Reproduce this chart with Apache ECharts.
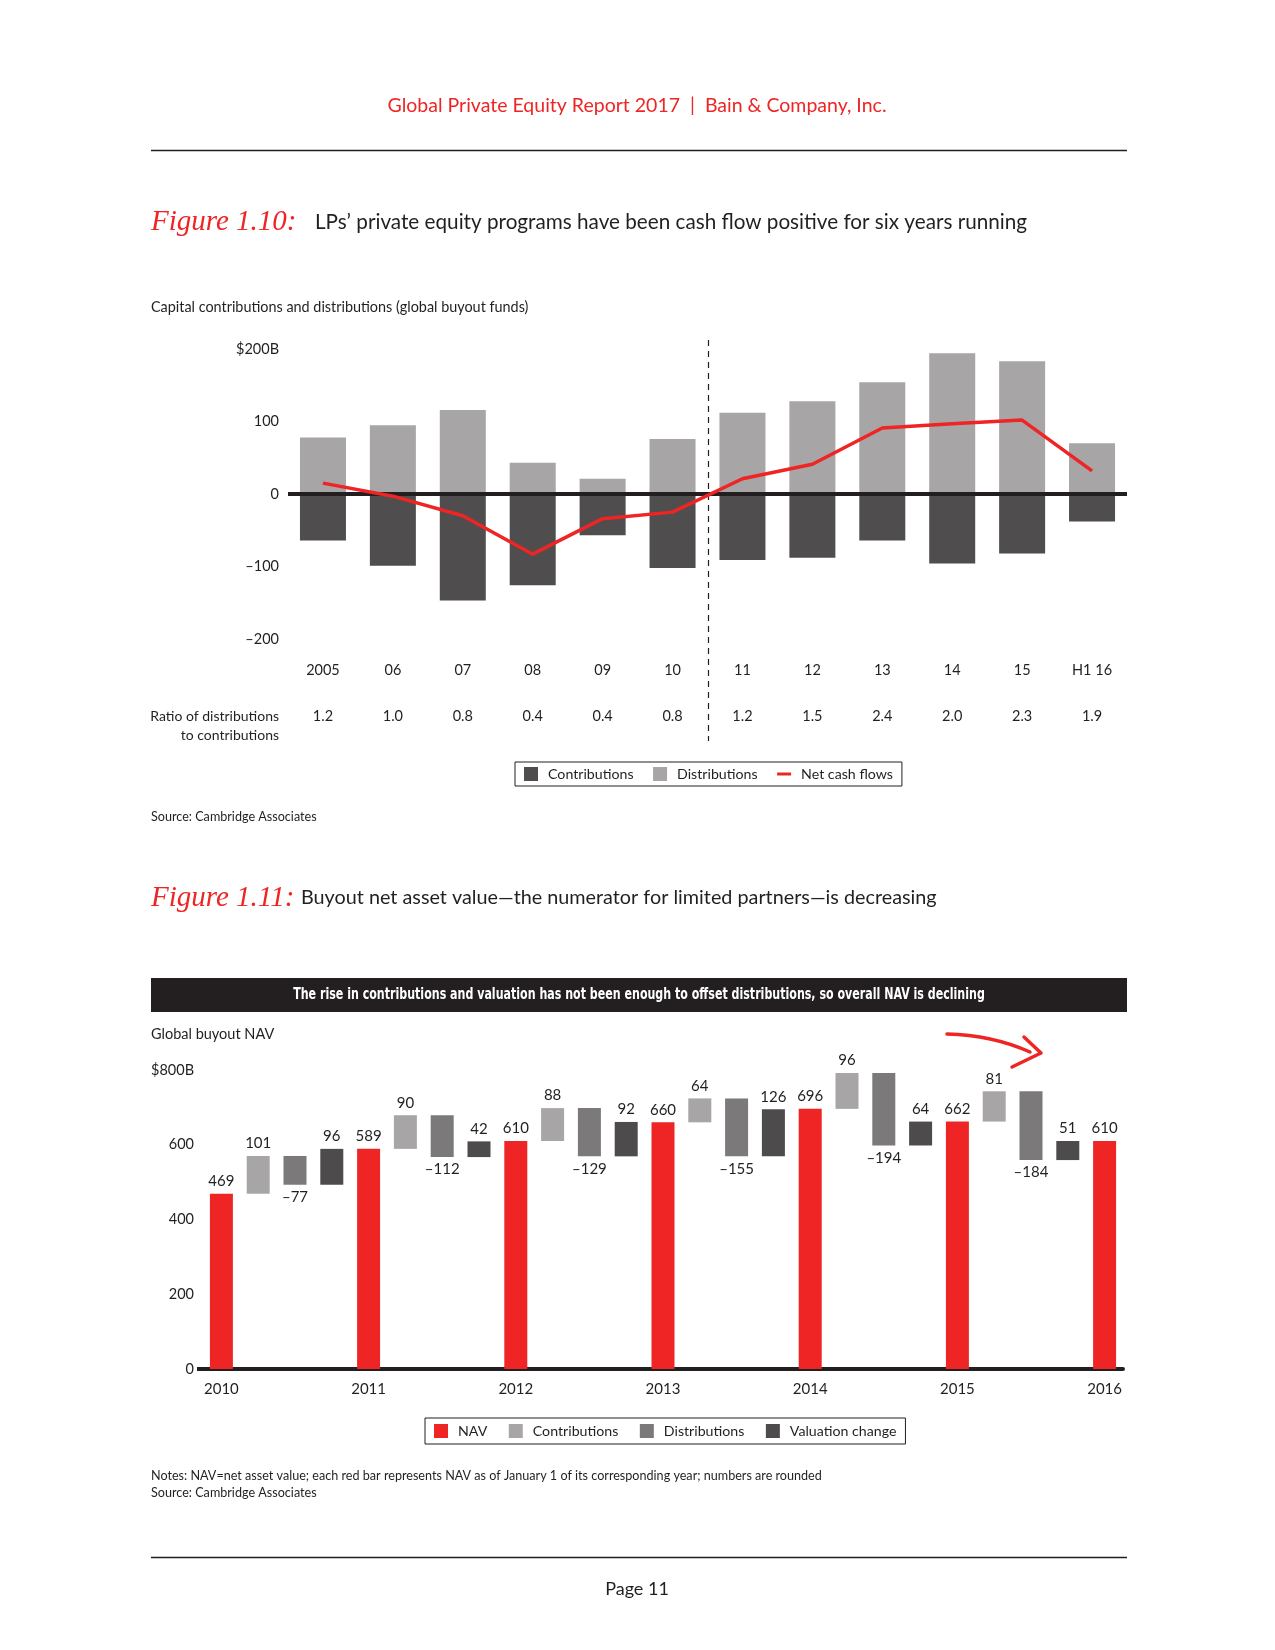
<!DOCTYPE html>
<html><head><meta charset="utf-8">
<script src="https://cdn.jsdelivr.net/npm/echarts@6/dist/echarts.min.js"></script>
<style>html,body{margin:0;padding:0;background:#fff}.c{position:absolute;left:0;top:0;width:1275px;height:1650px}</style>
</head><body><div id="c1" class="c"></div><div id="c2" class="c"></div>
<script>
// ---- Figure 1.10 data ----
const fig10Categories = ['2005','06','07','08','09','10','11','12','13','14','15','H1 16'];
const fig10Distributions = [78,95,116,43,21,76,112,128,154,194,183,70];
const fig10Contributions = [-64,-99,-147,-126,-57,-102,-91,-88,-64,-96,-82,-38];
const fig10NetCashFlows = [15,-3,-30,-83,-34,-25,21,41,91,97,102,32];
const fig10Ratios = ['1.2','1.0','0.8','0.4','0.4','0.8','1.2','1.5','2.4','2.0','2.3','1.9'];
const fig10YTickLabels = {'200':'$200B','100':'100','0':'0','-100':'\u2013100','-200':'\u2013200'};

// ---- Figure 1.11 data ----
const fig11Years = ['2010','2011','2012','2013','2014','2015','2016'];
const fig11NAV = [469,589,610,660,696,662,610];
const fig11Contributions = [101,90,88,64,96,81];
const fig11Distributions = [-77,-112,-129,-155,-194,-184];
const fig11Valuation = [96,42,92,126,64,51];
const fig11YTickLabels = {'0':'0','200':'200','400':'400','600':'600','800':'$800B'};

const FONT = 'Lato, "Liberation Sans", sans-serif';
const FIGFONT = '"Liberation Serif", serif';
const INK = '#231f20';
const RED = '#ee2524';

function txt(x, y, text, o, extra) {
  o = o || {};
  return Object.assign({type:'text', x:x, y:y, silent:true, style:Object.assign({text:text, fill:INK, fontFamily:FONT, fontSize:14, align:'left', verticalAlign:'middle'}, o)}, extra || {});
}

// ================= Chart 1 =================
const c1 = echarts.init(document.getElementById('c1'));
const opt1 = {
  animation:false,
  grid:{left:288, top:349, width:839, height:290},
  xAxis:[
    {type:'category', data:fig10Categories, axisLine:{show:false}, axisTick:{show:false},
     axisLabel:{margin:24, fontSize:14.5, color:INK, fontFamily:FONT}},
    {type:'category', data:fig10Ratios, position:'bottom', offset:46, axisLine:{show:false}, axisTick:{show:false},
     axisLabel:{margin:24, fontSize:14.5, color:INK, fontFamily:FONT}}
  ],
  yAxis:{type:'value', min:-200, max:200, interval:100, splitLine:{show:false}, axisLine:{show:false}, axisTick:{show:false},
     axisLabel:{margin:9, fontSize:14.5, color:INK, fontFamily:FONT, formatter:v=>fig10YTickLabels[String(v)]}},
  legend:{left:515, top:762, padding:[5,9,5,9], borderColor:INK, borderWidth:1, itemWidth:14, itemHeight:14, itemGap:19.5,
     textStyle:{fontSize:14.2, color:INK, fontFamily:FONT, padding:[0,0,0,5]},
     data:[{name:'Contributions', icon:'rect'},{name:'Distributions', icon:'rect'},{name:'Net cash flows', icon:'path://M0,0H14V3H0Z'}]},
  series:[
    {name:'Contributions', type:'bar', data:fig10Contributions, barWidth:46, barGap:'-100%', itemStyle:{color:'#4f4d4e'},
     markLine:{silent:true, symbol:'none', label:{show:false}, lineStyle:{color:INK, width:4, type:'solid'}, data:[{yAxis:0}]}},
    {name:'Distributions', type:'bar', data:fig10Distributions, barWidth:46, barGap:'-100%', itemStyle:{color:'#a7a5a6'}},
    {name:'Net cash flows', type:'line', data:fig10NetCashFlows, symbol:'none', z:10, lineStyle:{color:RED, width:3.5}, itemStyle:{color:RED}}
  ],
  graphic:[
    txt(637, 106, 'Global Private Equity Report 2017  |  Bain & Company, Inc.', {fill:RED, fontSize:19.5, align:'center'}),
    {type:'line', silent:true, shape:{x1:151, y1:150.5, x2:1127, y2:150.5}, style:{stroke:INK, lineWidth:1.5}},
    txt(151, 222, 'Figure 1.10:', {fill:RED, fontSize:29, fontStyle:'italic', fontFamily:FIGFONT}),
    txt(315, 222, 'LPs\u2019 private equity programs have been cash flow positive for six years running', {fontSize:20.7}),
    txt(151, 307, 'Capital contributions and distributions (global buyout funds)', {fontSize:14.4}),
    txt(279, 716, 'Ratio of distributions', {fontSize:14, align:'right'}),
    txt(279, 735, 'to contributions', {fontSize:14, align:'right'}),
    txt(151, 817, 'Source: Cambridge Associates', {fontSize:12.6})
  ]
};
c1.setOption(opt1);
// dashed divider between "10" and "11", placed from the axis scale
const xA = c1.convertToPixel({xAxisIndex:0}, fig10Categories[5]);
const xB = c1.convertToPixel({xAxisIndex:0}, fig10Categories[6]);
const xd = Math.round((xA + xB) / 2) + 0.5;
opt1.graphic.push({type:'line', silent:true, shape:{x1:xd, y1:340, x2:xd, y2:741}, style:{stroke:INK, lineWidth:1.2, lineDash:[6,5]}});
c1.setOption({graphic:opt1.graphic});

// ================= Chart 2 =================
const slots = [], baseData = [], navData = [], conData = [], disData = [], valData = [];
fig11Years.forEach((y, i) => {
  slots.push(y); baseData.push(0); navData.push(fig11NAV[i]); conData.push('-'); disData.push('-'); valData.push('-');
  if (i < fig11Contributions.length) {
    const n = fig11NAV[i], c = fig11Contributions[i], d = fig11Distributions[i], v = fig11Valuation[i];
    slots.push(y + ' c'); baseData.push(n); navData.push('-'); conData.push(c); disData.push('-'); valData.push('-');
    slots.push(y + ' d'); baseData.push(n + c + d); navData.push('-'); conData.push('-'); disData.push(-d); valData.push('-');
    slots.push(y + ' v'); baseData.push(n + c + d); navData.push('-'); conData.push('-'); disData.push('-'); valData.push(v);
  }
});
const lbl = {show:true, position:'top', distance:5, fontSize:15, color:INK, fontFamily:FONT};
const c2 = echarts.init(document.getElementById('c2'));
c2.setOption({
  animation:false,
  grid:{left:203, top:1070, width:920, height:299},
  xAxis:{type:'category', data:slots, axisLine:{lineStyle:{color:INK, width:4}}, axisTick:{show:false},
     axisLabel:{margin:13, fontSize:15, color:INK, fontFamily:FONT, interval:(idx)=>idx % 4 === 0, formatter:v=>v.split(' ')[0]}},
  yAxis:{type:'value', min:0, max:800, interval:200, splitLine:{show:false}, axisLine:{show:false}, axisTick:{show:false},
     axisLabel:{margin:9, fontSize:14.5, color:INK, fontFamily:FONT, formatter:v=>fig11YTickLabels[String(v)]}},
  legend:{left:425, top:1418, padding:[6,9,6,9], borderColor:INK, borderWidth:1, itemWidth:14, itemHeight:14, itemGap:21.5,
     textStyle:{fontSize:14.2, color:INK, fontFamily:FONT, padding:[0,0,0,5]},
     data:[{name:'NAV', icon:'rect'},{name:'Contributions', icon:'rect'},{name:'Distributions', icon:'rect'},{name:'Valuation change', icon:'rect'}]},
  series:[
    {name:'base', type:'bar', stack:'w', data:baseData, barWidth:23, silent:true, itemStyle:{color:'transparent'}},
    {name:'NAV', type:'bar', stack:'w', data:navData, barWidth:23, itemStyle:{color:RED}, label:lbl},
    {name:'Contributions', type:'bar', stack:'w', data:conData, barWidth:23, itemStyle:{color:'#a7a5a6'}, label:lbl},
    {name:'Distributions', type:'bar', stack:'w', data:disData, barWidth:23, itemStyle:{color:'#7b797a'},
     label:Object.assign({}, lbl, {position:'bottom', formatter:p=>'\u2013' + p.value})},
    {name:'Valuation change', type:'bar', stack:'w', data:valData, barWidth:23, itemStyle:{color:'#4d4b4c'}, label:lbl}
  ],
  graphic:[
    txt(151, 898, 'Figure 1.11:', {fill:RED, fontSize:29, fontStyle:'italic', fontFamily:FIGFONT}),
    txt(301, 898, 'Buyout net asset value\u2014the numerator for limited partners\u2014is decreasing', {fontSize:19.8}),
    {type:'rect', silent:true, shape:{x:151, y:978, width:976, height:34}, style:{fill:INK}},
    txt(639, 995, 'The rise in contributions and valuation has not been enough to offset distributions, so overall NAV is declining',
        {fill:'#fff', fontSize:15, fontWeight:'bold', align:'center', fontFamily:'"Liberation Sans Narrow", "DejaVu Sans Condensed", sans-serif'},
        {scaleX:0.82}),
    txt(151, 1034, 'Global buyout NAV', {fontSize:14.5}),
    {type:'line', silent:true, shape:{x1:197, y1:1369, x2:205, y2:1369}, style:{stroke:INK, lineWidth:4}},
    {type:'bezierCurve', silent:true, shape:{x1:947, y1:1034, cpx1:992, cpy1:1035, x2:1030, y2:1052}, style:{stroke:RED, lineWidth:3.5, lineCap:'round', fill:'none'}},
    {type:'polyline', silent:true, shape:{points:[[1024,1037],[1041,1053],[1012,1067]]}, style:{stroke:RED, lineWidth:3.5, lineCap:'round', lineJoin:'round', fill:'none'}},
    txt(151, 1476, 'Notes: NAV=net asset value; each red bar represents NAV as of January 1 of its corresponding year; numbers are rounded', {fontSize:12.6}),
    txt(151, 1493, 'Source: Cambridge Associates', {fontSize:12.6}),
    {type:'line', silent:true, shape:{x1:151, y1:1557.5, x2:1127, y2:1557.5}, style:{stroke:INK, lineWidth:1.5}},
    txt(637, 1589, 'Page 11', {fontSize:18, align:'center'})
  ]
});
</script></body></html>
